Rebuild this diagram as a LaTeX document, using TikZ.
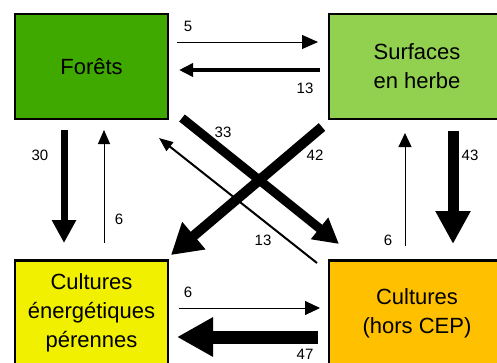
\documentclass[tikz,border=0pt]{standalone}
\usepackage{fontspec}
\setmainfont{Liberation Sans}
\usetikzlibrary{arrows.meta}
\definecolor{cForet}{RGB}{63,169,0}
\definecolor{cHerbe}{RGB}{146,208,80}
\definecolor{cCEP}{RGB}{240,240,0}
\definecolor{cHors}{RGB}{255,192,0}
\begin{document}
\begin{tikzpicture}[x=1pt,y=-1pt,
  box/.style={draw=black,line width=2.5pt,minimum width=153pt,minimum height=105pt,inner sep=0pt,align=center,font=\fontsize{22}{29}\selectfont},
  lab/.style={font=\fontsize{15}{18}\selectfont,inner sep=0pt},
  flow/.style={draw=black,line cap=butt},
]
\useasboundingbox (0,0) rectangle (497,362);
\clip (0,0) rectangle (497,362);
\node[box,fill=cForet] (foret) at (91.5,66.5) {For\^ets};
\node[box,fill=cHerbe,minimum width=176pt] (herbe) at (417,66.5) {Surfaces\\en herbe};
\node[box,fill=cCEP] (cep) at (91.5,313) {Cultures\\énergétiques\\pérennes};
\node[box,fill=cHors,minimum width=176pt] (hors) at (417,313) {Cultures\\(hors CEP)};
% endpoints
\coordinate (a5s) at (177,42); \coordinate (a5e) at (318,42);
\coordinate (a13s) at (320,70); \coordinate (a13e) at (179,70);
\coordinate (a30s) at (64,130); \coordinate (a30e) at (64,243);
\coordinate (a6ls) at (104,243); \coordinate (a6le) at (104,130);
\coordinate (a33s) at (182,118); \coordinate (a33e) at (339,244);
\coordinate (a42s) at (322,127); \coordinate (a42e) at (171,255);
\coordinate (a13ds) at (317,263); \coordinate (a13de) at (159,138);
\coordinate (a6rs) at (405,246); \coordinate (a6re) at (405,133);
\coordinate (a43s) at (453,131); \coordinate (a43e) at (453,244);
\coordinate (a6bs) at (179,308); \coordinate (a6be) at (320,308);
\coordinate (a47s) at (318,337); \coordinate (a47e) at (177,337);
% arrows
\draw[flow,line width=1pt,-{Triangle[length=16pt,width=14pt]}] (a5s) -- (a5e);
\draw[flow,line width=3.5pt,-{Triangle[length=14pt,width=13pt]}] (a13s) -- (a13e);
\draw[flow,line width=7pt,-{Triangle[length=23pt,width=23pt]}] (a30s) -- (a30e);
\draw[flow,line width=1pt,-{Triangle[length=14pt,width=12pt]}] (a6ls) -- (a6le);
\draw[flow,line width=2pt,-{Triangle[length=14pt,width=11pt]}] (a13ds) -- (a13de);
\draw[flow,line width=9pt,-{Triangle[length=25pt,width=26pt]}] (a33s) -- (a33e);
\draw[flow,line width=10pt,-{Triangle[length=30pt,width=34pt]}] (a42s) -- (a42e);
\draw[flow,line width=1pt,-{Triangle[length=14pt,width=13pt]}] (a6rs) -- (a6re);
\draw[flow,line width=11pt,-{Triangle[length=33pt,width=33pt]}] (a43s) -- (a43e);
\draw[flow,line width=1pt,-{Triangle[length=15pt,width=14pt]}] (a6bs) -- (a6be);
\draw[flow,line width=13pt,-{Triangle[length=36pt,width=37pt]}] (a47s) -- (a47e);
% labels
\node[lab] (l5) at (188,26) {5};
\node[lab] (l13a) at (305,88) {13};
\node[lab] (l30) at (40,155) {30};
\node[lab] (l6a) at (119,219) {6};
\node[lab] (l33) at (223,132) {33};
\node[lab] (l42) at (315,155) {42};
\node[lab] (l13b) at (263,240) {13};
\node[lab] (l6b) at (388,240) {6};
\node[lab] (l43) at (470,155) {43};
\node[lab] (l6c) at (188,292) {6};
\node[lab] (l47) at (305,354) {47};
\end{tikzpicture}
\end{document}
